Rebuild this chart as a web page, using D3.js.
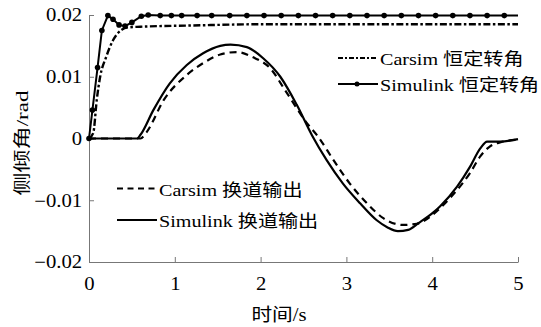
<!DOCTYPE html>
<html>
<head>
<meta charset="utf-8">
<script src="https://cdn.jsdelivr.net/npm/d3@7"></script>
<style>
  body { margin: 0; background: #fff; }
  svg { display: block; }
</style>
</head>
<body>
<div id="chart"></div>
<script>
// data
const xTicks = [0, 1, 2, 3, 4, 5];
const yTicks = [-0.02, -0.01, 0, 0.01, 0.02];
const yTickLabels = ['\u22120.02', '\u22120.01', '0', '0.01', '0.02'];

const simConstT = [0, 0.04, 0.1, 0.15, 0.22, 0.28, 0.35, 0.42, 0.5, 0.61, 0.69, 0.83, 0.96, 1.08, 1.26, 1.43, 1.64,
  1.84, 2.04, 2.24, 2.44, 2.64, 2.84, 3.04, 3.24, 3.44, 3.64, 3.84, 4.04, 4.24, 4.44, 4.64, 4.84, 5.0];
const simConstV = [0, 0.0046, 0.0115, 0.0175, 0.0199, 0.0193, 0.0184, 0.0182, 0.0188, 0.0198, 0.0200, 0.0199, 0.0199,
  0.0199, 0.0199, 0.0199, 0.0199, 0.0199, 0.0199, 0.0199, 0.0199, 0.0199, 0.0199, 0.0199, 0.0199, 0.0199, 0.0199,
  0.0199, 0.0199, 0.0199, 0.0199, 0.0199, 0.0199, 0.0199];

const carConstT = [0, 0.05, 0.09, 0.13, 0.2, 0.28, 0.38, 0.46, 0.6, 1.2, 2.0, 3.0, 4.0, 5.0];
const carConstV = [0, 0.0009, 0.0062, 0.0100, 0.0132, 0.0159, 0.0176, 0.0180, 0.0181, 0.0183, 0.0185, 0.0185, 0.0185, 0.0185];

const simLaneT = [0, 0.56, 0.6, 0.75, 0.94, 1.14, 1.33, 1.53, 1.65, 1.84, 2.03, 2.23, 2.42, 2.6, 2.77, 2.96, 3.16,
  3.35, 3.48, 3.6, 3.72, 3.84, 4.01, 4.09, 4.29, 4.44, 4.56, 4.64, 4.79, 5.0];
const simLaneV = [0, 0, 0.0006, 0.0046, 0.0089, 0.0119, 0.0138, 0.0150, 0.0152, 0.0148, 0.0130, 0.0100, 0.0055,
  0.0005, -0.0035, -0.0073, -0.0105, -0.0132, -0.0144, -0.0150, -0.0148, -0.0137, -0.0120, -0.0110, -0.0078,
  -0.0046, -0.0016, -0.0005, -0.0005, -0.0001];

const carLaneT = [0, 0.6, 0.67, 0.87, 1.14, 1.33, 1.53, 1.72, 1.92, 2.11, 2.3, 2.54, 2.67, 2.85, 3.04, 3.24, 3.43,
  3.66, 3.82, 4.09, 4.21, 4.44, 4.56, 4.67, 4.8, 5.0];
const carLaneV = [0, 0, 0.0010, 0.0062, 0.0103, 0.0122, 0.0136, 0.0140, 0.0131, 0.0114, 0.0075, 0.0025, 0.0003,
  -0.0035, -0.0073, -0.0105, -0.0129, -0.0140, -0.0138, -0.0113, -0.0096, -0.0056, -0.0029, -0.0013, -0.0006, -0.0002];

const legendTop = ['Carsim 恒定转角', 'Simulink 恒定转角'];
const legendBottom = ['Carsim 换道输出', 'Simulink 换道输出'];
const xTitle = '时间/s';
const yTitle = '侧倾角/rad';

const W = 541, H = 327;
const margin = { top: 15, right: 23, bottom: 65, left: 89 };
const width = W - margin.left - margin.right;
const height = H - margin.top - margin.bottom;
const stretch = 'scale(1.15,1)';
const FONT = "'Liberation Serif', 'Noto Sans CJK SC', serif";

const svg = d3.select('#chart').append('svg')
  .attr('width', W)
  .attr('height', H)
  .style('font-family', FONT);

const g = svg.append('g')
  .attr('transform', 'translate(' + margin.left + ',' + margin.top + ')');

const x = d3.scaleLinear().domain([0, 5]).range([0, width]);
const y = d3.scaleLinear().domain([-0.02, 0.02]).range([height, 0]);

// axes, ticks pointing inwards
const xAxis = g.append('g')
  .attr('transform', 'translate(0,' + height + ')')
  .call(d3.axisBottom(x).tickValues(xTicks).tickSizeInner(-5).tickSizeOuter(0).tickPadding(15)
    .tickFormat(d => String(d)));

const yAxis = g.append('g')
  .call(d3.axisLeft(y).tickValues(yTicks).tickSizeInner(-5).tickSizeOuter(0).tickPadding(6)
    .tickFormat((d, i) => yTickLabels[i]));

[xAxis, yAxis].forEach(a => {
  a.attr('font-family', null).attr('font-size', null);
  a.select('.domain').attr('stroke', '#777');
  a.selectAll('.tick line').attr('stroke', '#777');
  a.selectAll('.tick text')
    .style('font-family', FONT)
    .style('font-size', '18px')
    .attr('fill', '#000')
    .attr('transform', stretch);
});

const toPts = (ts, vs) => ts.map((t, i) => [t, vs[i]]);
const line = d3.line().x(d => x(d[0])).y(d => y(d[1]));

function drawLine(pts, dash, w, curve) {
  g.append('path')
    .datum(pts)
    .attr('fill', 'none')
    .attr('stroke', '#000')
    .attr('stroke-width', w)
    .attr('stroke-dasharray', dash)
    .attr('d', line.curve(curve)(pts));
}

const simConst = toPts(simConstT, simConstV);
drawLine(toPts(carConstT, carConstV), '7,2.5,2.5,2.5', 2.4, d3.curveMonotoneX);
drawLine(toPts(carLaneT, carLaneV), '7,5', 2.2, d3.curveMonotoneX);
drawLine(toPts(simLaneT, simLaneV), null, 2.2, d3.curveMonotoneX);
drawLine(simConst, null, 2, d3.curveLinear);

g.selectAll('.mk')
  .data(simConst.slice(0, -1))
  .enter().append('circle')
  .attr('class', 'mk')
  .attr('cx', d => x(d[0]))
  .attr('cy', d => y(d[1]))
  .attr('r', 2.8)
  .attr('fill', '#000');

// legends
function legendRow(x0, yLine, label, dash, w, marker) {
  svg.append('line')
    .attr('x1', x0).attr('x2', x0 + 40)
    .attr('y1', yLine).attr('y2', yLine)
    .attr('stroke', '#000')
    .attr('stroke-width', w)
    .attr('stroke-dasharray', dash);
  if (marker) {
    svg.append('circle').attr('cx', x0 + 19).attr('cy', yLine).attr('r', 2.5).attr('fill', '#000');
  }
  svg.append('g')
    .attr('transform', 'translate(' + (x0 + 42) + ',' + (yLine + 7) + ') ' + stretch)
    .append('text')
    .style('font-size', '17.5px')
    .text(label);
}

legendRow(338, 58, legendTop[0], '5,2,2,2', 2.2, false);
legendRow(338, 84, legendTop[1], null, 2, true);
legendRow(117, 188.5, legendBottom[0], '6,4.5', 2.2, false);
legendRow(117, 220, legendBottom[1], null, 2.2, false);

// axis titles
svg.append('g')
  .attr('transform', 'translate(279,321) ' + stretch)
  .append('text')
  .attr('text-anchor', 'middle')
  .style('font-size', '18px')
  .text(xTitle);

svg.append('text')
  .attr('transform', 'translate(28,143) rotate(-90)')
  .attr('text-anchor', 'middle')
  .style('font-size', '17px')
  .attr('textLength', 105)
  .attr('lengthAdjust', 'spacingAndGlyphs')
  .text(yTitle);
</script>
</body>
</html>
